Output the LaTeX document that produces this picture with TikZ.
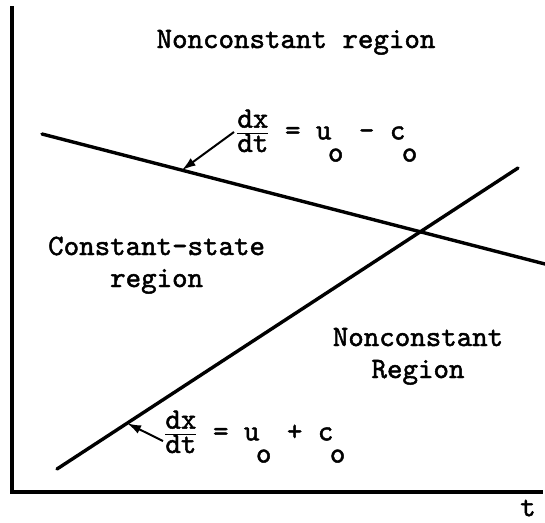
\documentclass[tikz,border=0pt]{standalone}
\usepackage{fontspec}
\setmonofont{lmmono10-regular.otf}[FakeBold=1.6]
\usetikzlibrary{positioning, arrows.meta}
\newcommand{\low}[1]{\kern-0.12em\raisebox{-0.75em}{#1}}
\newcommand{\rate}[2]{$\frac{\hbox{\raisebox{2pt}{#1}}}{\hbox{\raisebox{-4pt}{#2}}}$}

\begin{document}
\begin{tikzpicture}[x=1pt, y=-1pt,
    lbl/.style={font=\ttfamily\fontsize{29.5}{34}\selectfont, inner sep=0pt},
    axis/.style={line width=3.2pt},
    char/.style={line width=3.4pt, line cap=round},
    pointer/.style={line width=2pt, -{Latex[length=14pt, width=9pt]}}]
    \useasboundingbox (0,0) rectangle (545,522);

    % axes
    \coordinate (ytop) at (12,6);
    \coordinate (o) at (12,492);
    \coordinate (xend) at (543,492);
    \draw[axis] (ytop) -- (o) -- (xend);
    \node[lbl] (tl) at (528,508) {t};

    % characteristic lines
    \coordinate (m1) at (42,134);
    \coordinate (m2) at (545,264);
    \coordinate (p1) at (57,469);
    \coordinate (p2) at (518,168);
    \draw[char] (m1) -- coordinate[pos=0.278] (tip1) (m2);
    \draw[char] (p1) -- coordinate[pos=0.152] (tip2) (p2);

    % regions
    \node[lbl, anchor=base] (top) at (296,48) {Nonconstant region};
    \node[lbl, anchor=base west] (cs1) at (48,255) {Constant-state};
    \node[lbl, anchor=base] (cs2) at ([yshift=-32pt]cs1.base) {region};
    \node[lbl, anchor=base] (nc2) at (418,378) {Region};
    \node[lbl, anchor=base] (nc1) at ([yshift=32pt]nc2.base) {Nonconstant};

    % slopes
    \node[lbl, anchor=base west] (minus) at (236,139.4) {\rate{dx}{dt} = u\low{o} - c\low{o}};
    \node[lbl, anchor=base west] (plus) at (164,440.4) {\rate{dx}{dt} = u\low{o} + c\low{o}};
    \coordinate (e1) at (234,132);
    \coordinate (e2) at (163,441);
    \draw[pointer] (e1) -- (tip1);
    \draw[pointer] (e2) -- (tip2);
\end{tikzpicture}
\end{document}
